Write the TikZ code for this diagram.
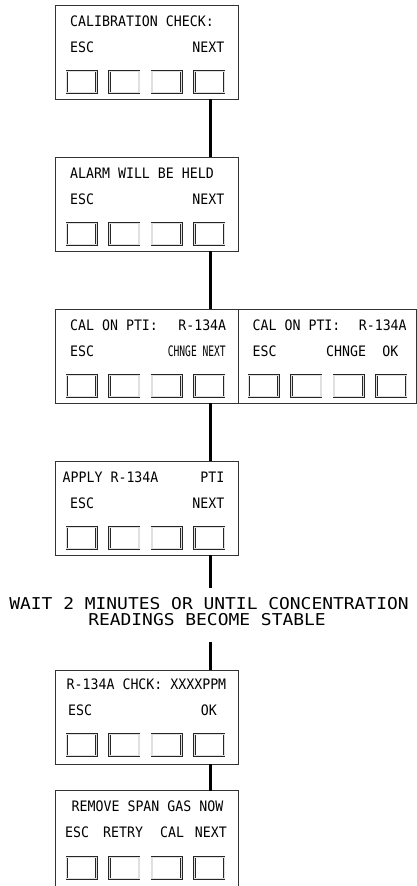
\documentclass[tikz,border=0pt]{standalone}
\usepackage{fontspec}
\usepackage{graphicx}
\newfontfamily\panelfont[FakeStretch=0.92]{DejaVu Sans Mono}
\newfontfamily\notefont[FakeStretch=1.1]{DejaVu Sans Mono}

% four soft keys under a display panel: prefix, left x of first key, top y
\newcommand\panelkeys[3]{%
  \foreach \k in {1,...,4}{%
    \node[softkey] (#1-\k) at ({#2+1.2+(\k-1)*42.6},{#3+1.2}) {};}}

\begin{document}
\begin{tikzpicture}[x=1pt,y=-1pt,
  panel/.style={draw=black!80, line width=0.9pt, anchor=north west,
    minimum width=183.5pt, minimum height=94pt, inner sep=0pt, outer sep=0pt},
  softkey/.style={draw=black!85, line width=0.6pt, double=black!12,
    double distance=1.2pt, minimum width=29.6pt, minimum height=21.6pt,
    inner sep=0pt, outer sep=0pt, anchor=north west},
  lbl/.style={font=\panelfont\fontsize{14.4}{16}\selectfont, inner sep=0pt,
    anchor=base west},
  lblr/.style={lbl, anchor=base east},
  note/.style={font=\notefont\fontsize{16.3}{18}\selectfont, inner sep=0pt,
    anchor=base},
  link/.style={line width=2.6pt, black},
  edge/.style={draw=black!80, line width=0.9pt}]

\useasboundingbox (0,0) rectangle (417,886);
\coordinate (spine) at (210.5,0);

% calibration check
\node[panel] (p1) at (55,5) {};
\node[lbl]  (p1-title) at (70,26.5) {CALIBRATION CHECK:};
\node[lbl]  (p1-esc)   at (70,52) {ESC};
\node[lblr] (p1-next)  at (224.5,52) {NEXT};
\panelkeys{p1k}{65.5}{70}

% alarm hold
\node[panel] (p2) at (55,157) {};
\node[lbl]  (p2-title) at (70,178.5) {ALARM WILL BE HELD};
\node[lbl]  (p2-esc)   at (70,204) {ESC};
\node[lblr] (p2-next)  at (224.5,204) {NEXT};
\panelkeys{p2k}{65.5}{222}

% gas selection, two variants side by side
\node[panel] (p3l) at (55,309) {};
\node[panel, minimum width=178pt] (p3r) at (238.5,309) {};
\node[lbl]  (p3l-title) at (70,330.5) {\makebox[156pt][l]{CAL ON PTI:\hfill R-134A}};
\node[lbl]  (p3l-esc)   at (70,356) {ESC};
\node[lblr] (p3l-next)  at (226,356) {\resizebox{58pt}{\height}{CHNGE NEXT}};
\panelkeys{p3lk}{65.5}{374}
\node[lbl]  (p3r-title) at (252.5,330.5) {\makebox[154pt][l]{CAL ON PTI:\hfill R-134A}};
\node[lbl]  (p3r-esc)   at (252.5,356) {ESC};
\node[lbl]  (p3r-chg)   at (326,356) {CHNGE};
\node[lblr] (p3r-ok)    at (398.5,356) {OK};
\panelkeys{p3rk}{247.5}{374}

% apply gas
\node[panel] (p4) at (55,461) {};
\node[lbl]  (p4-title) at (62.5,482.5) {APPLY R-134A};
\node[lblr] (p4-pti)   at (224.5,482.5) {PTI};
\node[lbl]  (p4-esc)   at (70,508) {ESC};
\node[lblr] (p4-next)  at (224.5,508) {NEXT};
\panelkeys{p4k}{65.5}{526}

% waiting instruction
\node[note] (wait1) at (209,609.5) {WAIT 2 MINUTES OR UNTIL CONCENTRATION};
\node[note] (wait2) at (207,625) {READINGS BECOME STABLE};
\coordinate (w-in)  at (210.5,587.5);
\coordinate (w-out) at (210.5,641.5);

% reading check
\node[panel] (p5) at (55,670) {};
\node[lbl]  (p5-title) at (66.5,689.5) {R-134A CHCK: XXXXPPM};
\node[lbl]  (p5-esc)   at (68,715) {ESC};
\node[lblr] (p5-ok)    at (217,715) {OK};
\panelkeys{p5k}{65.5}{733}

% remove span gas (runs off the bottom edge)
\node[panel, draw=none, minimum height=95.3pt] (p6) at (55,790.7) {};
\draw[edge] (p6.south west) -- (p6.north west) -- (p6.north east) -- (p6.south east);
\node[lbl]  (p6-title) at (71.5,811.5) {REMOVE SPAN GAS NOW};
\node[lbl]  (p6-esc)   at (65,837) {ESC};
\node[lbl]  (p6-retry) at (103,837) {RETRY};
\node[lbl]  (p6-cal)   at (160,837) {CAL};
\node[lblr] (p6-next)  at (227,837) {NEXT};
\panelkeys{p6k}{65.5}{856}

% flow connectors
\draw[link] (p1.south -| spine) -- (p2.north -| spine);
\draw[link] (p2.south -| spine) -- (p3l.north -| spine);
\draw[link] (p3l.south -| spine) -- (p4.north -| spine);
\draw[link] (p4.south -| spine) -- (w-in);
\draw[link] (w-out) -- (p5.north -| spine);
\draw[link] (p5.south -| spine) -- (p6.north -| spine);
\end{tikzpicture}
\end{document}
